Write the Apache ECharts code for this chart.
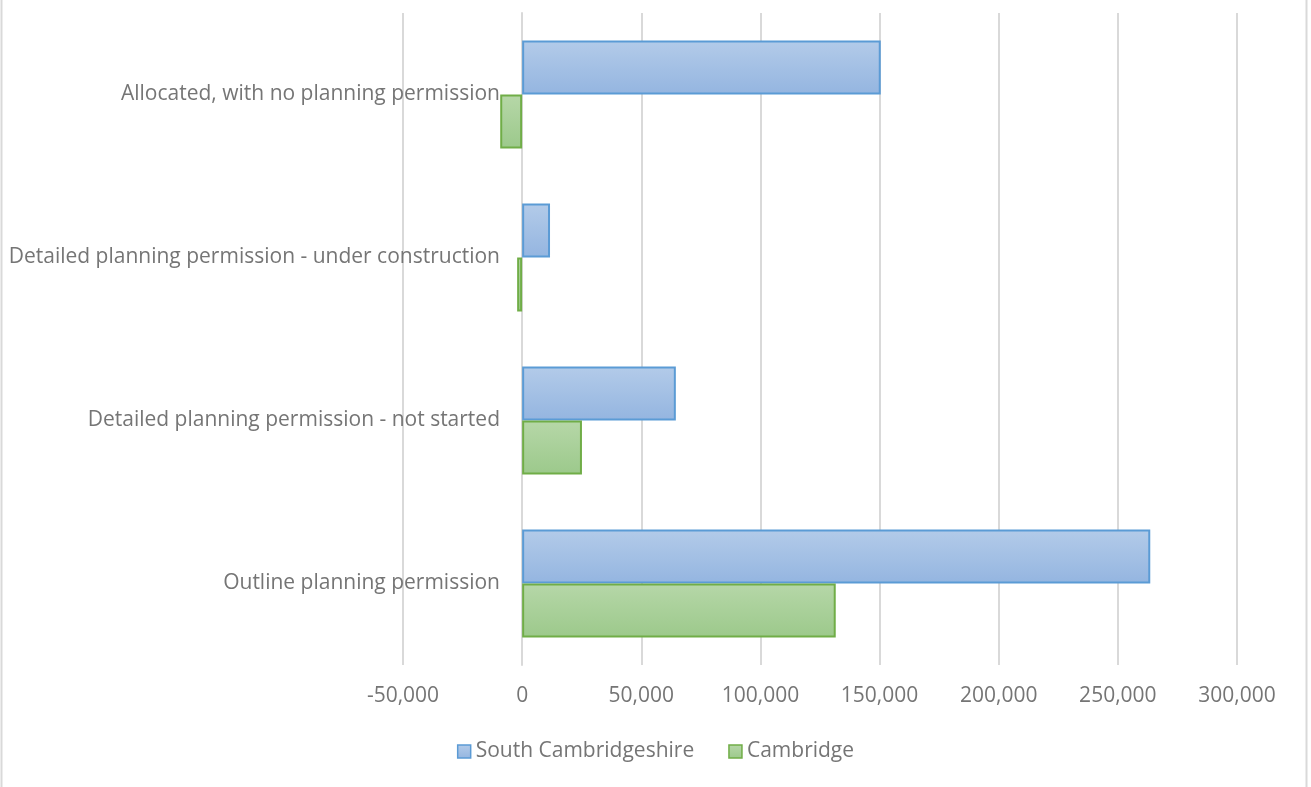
<!DOCTYPE html>
<html>
<head>
<meta charset="utf-8">
<script src="https://cdn.jsdelivr.net/npm/echarts@6/dist/echarts.min.js"></script>
<style>
  html, body { margin: 0; padding: 0; background: #fff; }
  #chart { width: 1311px; height: 787px; }
</style>
</head>
<body>
<div id="chart"></div>
<script>
// Housing supply by planning status (categories listed bottom to top)
const categories = [
  'Outline planning permission',
  'Detailed planning permission - not started',
  'Detailed planning permission - under construction',
  'Allocated, with no planning permission'
];
const seriesNames = ['South Cambridgeshire', 'Cambridge'];
const southCambridgeshire = [263600, 64500, 11700, 150500];
const cambridge = [131600, 25100, -2100, -9200];
const xTicks = { min: -50000, max: 300000, interval: 50000 };

const textColor = '#757575';
const fontFamily = '"Open Sans", Lato, sans-serif';
const fontSize = 21;

function grad(top, bottom) {
  return new echarts.graphic.LinearGradient(0, 0, 0, 1, [
    { offset: 0, color: top },
    { offset: 1, color: bottom }
  ]);
}

const chart = echarts.init(document.getElementById('chart'), null, { renderer: 'canvas' });
chart.setOption({
  animation: false,
  backgroundColor: '#ffffff',
  textStyle: { fontFamily: fontFamily },
  grid: { left: 403, right: 74, top: 13, bottom: 122, outerBoundsMode: 'none', containLabel: false },
  legend: {
    bottom: 20,
    left: 'center',
    icon: 'rect',
    itemWidth: 13,
    itemHeight: 13,
    itemGap: 34,
    itemStyle: { borderWidth: 1.5 },
    textStyle: { color: textColor, fontSize: fontSize, fontFamily: fontFamily },
    data: seriesNames
  },
  xAxis: {
    type: 'value',
    min: xTicks.min,
    max: xTicks.max,
    interval: xTicks.interval,
    axisLine: { show: false },
    axisTick: { show: false },
    splitLine: { lineStyle: { color: '#d9d9d9', width: 2 } },
    axisLabel: {
      color: textColor,
      fontSize: fontSize,
      margin: 21,
      formatter: v => v.toLocaleString('en-US')
    }
  },
  yAxis: {
    type: 'category',
    data: categories,
    axisLine: { show: true, onZero: true, lineStyle: { color: '#d9d9d9', width: 2 } },
    axisTick: { show: false },
    // labels sit just left of the zero line, which is 119px inside the grid edge
    axisLabel: { color: textColor, fontSize: fontSize, margin: -97, padding: [4, 0, 0, 0] }
  },
  series: [
    {
      name: seriesNames[0],
      type: 'bar',
      data: southCambridgeshire,
      barWidth: 54,
      barGap: '0%',
      itemStyle: {
        color: grad('#b3cbe9', '#94b5e0'),
        borderColor: '#5b9bd5',
        borderWidth: 2
      }
    },
    {
      name: seriesNames[1],
      type: 'bar',
      data: cambridge,
      barWidth: 54,
      barGap: '0%',
      itemStyle: {
        color: grad('#b6d7a8', '#9cc98b'),
        borderColor: '#70ad47',
        borderWidth: 2
      }
    }
  ],
  graphic: [
    { type: 'line', shape: { x1: 1.5, y1: 0, x2: 1.5, y2: 787 }, style: { stroke: '#d9d9d9', lineWidth: 2 } },
    { type: 'line', shape: { x1: 1306.5, y1: 0, x2: 1306.5, y2: 787 }, style: { stroke: '#d9d9d9', lineWidth: 2 } }
  ]
});
</script>
</body>
</html>
